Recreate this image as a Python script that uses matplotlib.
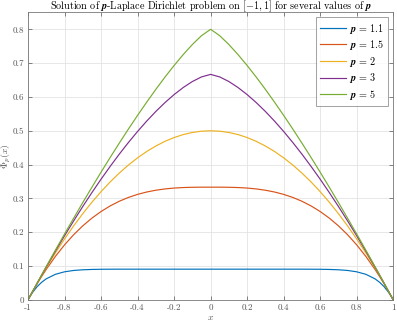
import matplotlib
matplotlib.use('Agg')
import matplotlib.pyplot as plt

# data (curves are symmetric about x = 0)
x = [-1, -0.99, -0.975, -0.95, -0.925, -0.9, -0.85, -0.8, -0.75, -0.7, -0.65, -0.6,
     -0.55, -0.5, -0.45, -0.4, -0.35, -0.3, -0.25, -0.2, -0.15, -0.1, -0.05, 0,
     0.05, 0.1, 0.15, 0.2, 0.25, 0.3, 0.35, 0.4, 0.45, 0.5, 0.55, 0.6, 0.65, 0.7,
     0.75, 0.8, 0.85, 0.9, 0.925, 0.95, 0.975, 0.99, 1]

u_11 = [0, 0.0095, 0.0221, 0.0392, 0.0523, 0.0624, 0.0757, 0.0831, 0.0871, 0.0891, 0.0901, 0.0906,
        0.0908, 0.0909, 0.0909, 0.0909, 0.0909, 0.0909, 0.0909, 0.0909, 0.0909, 0.0909, 0.0909, 0.0909,
        0.0909, 0.0909, 0.0909, 0.0909, 0.0909, 0.0909, 0.0909, 0.0909, 0.0909, 0.0909, 0.0908, 0.0906, 0.0901, 0.0891,
        0.0871, 0.0831, 0.0757, 0.0624, 0.0523, 0.0392, 0.0221, 0.0095, 0]
u_15 = [0, 0.0099, 0.0244, 0.0475, 0.0695, 0.0903, 0.1286, 0.1627, 0.1927, 0.2190, 0.2418, 0.2613,
        0.2779, 0.2917, 0.3030, 0.3120, 0.3190, 0.3243, 0.3281, 0.3307, 0.3322, 0.3330, 0.3333, 0.3333,
        0.3333, 0.3330, 0.3322, 0.3307, 0.3281, 0.3243, 0.3190, 0.3120, 0.3030, 0.2917, 0.2779, 0.2613, 0.2418, 0.2190,
        0.1927, 0.1627, 0.1286, 0.0903, 0.0695, 0.0475, 0.0244, 0.0099, 0]
u_2 = [0, 0.0100, 0.0247, 0.0488, 0.0722, 0.0950, 0.1388, 0.1800, 0.2188, 0.2550, 0.2888, 0.3200,
       0.3488, 0.3750, 0.3988, 0.4200, 0.4388, 0.4550, 0.4688, 0.4800, 0.4888, 0.4950, 0.4988, 0.5000,
       0.4988, 0.4950, 0.4888, 0.4800, 0.4688, 0.4550, 0.4388, 0.4200, 0.3988, 0.3750, 0.3488, 0.3200, 0.2888, 0.2550,
       0.2188, 0.1800, 0.1388, 0.0950, 0.0722, 0.0488, 0.0247, 0.0100, 0]
u_3 = [0, 0.0100, 0.0249, 0.0494, 0.0736, 0.0975, 0.1442, 0.1896, 0.2336, 0.2762, 0.3173, 0.3568,
       0.3947, 0.4310, 0.4654, 0.4980, 0.5286, 0.5571, 0.5833, 0.6070, 0.6279, 0.6456, 0.6592, 0.6667,
       0.6592, 0.6456, 0.6279, 0.6070, 0.5833, 0.5571, 0.5286, 0.4980, 0.4654, 0.4310, 0.3947, 0.3568, 0.3173, 0.2762,
       0.2336, 0.1896, 0.1442, 0.0975, 0.0736, 0.0494, 0.0249, 0.0100, 0]
u_5 = [0, 0.0100, 0.0249, 0.0496, 0.0743, 0.0987, 0.1471, 0.1948, 0.2416, 0.2878, 0.3331, 0.3776,
       0.4211, 0.4636, 0.5052, 0.5455, 0.5846, 0.6224, 0.6586, 0.6930, 0.7253, 0.7550, 0.7811, 0.8000,
       0.7811, 0.7550, 0.7253, 0.6930, 0.6586, 0.6224, 0.5846, 0.5455, 0.5052, 0.4636, 0.4211, 0.3776, 0.3331, 0.2878,
       0.2416, 0.1948, 0.1471, 0.0987, 0.0743, 0.0496, 0.0249, 0.0100, 0]

labels = ['1.1', '1.5', '2', '3', '5']
colors = ['#0072BD', '#D95319', '#EDB120', '#7E2F8E', '#77AC30']

xticks = [-1, -0.8, -0.6, -0.4, -0.2, 0, 0.2, 0.4, 0.6, 0.8, 1]
xtick_labels = ['-1', '-0.8', '-0.6', '-0.4', '-0.2', '0', '0.2', '0.4', '0.6', '0.8', '1']
yticks = [0, 0.1, 0.2, 0.3, 0.4, 0.5, 0.6, 0.7, 0.8]
ytick_labels = ['0', '0.1', '0.2', '0.3', '0.4', '0.5', '0.6', '0.7', '0.8']

plt.rcParams['font.family'] = 'cmr10'
plt.rcParams['mathtext.fontset'] = 'cm'
plt.rcParams['axes.unicode_minus'] = False

fig = plt.figure(figsize=(3.97, 3.26), dpi=100)
ax = fig.add_axes([0.0705, 0.08, 0.92, 0.882])

for u, lab, c in zip([u_11, u_15, u_2, u_3, u_5], labels, colors):
    ax.plot(x, u, color=c, linewidth=0.85, label=r'$\boldsymbol{p}\,=\,$' + lab)

ax.set_xlim(-1, 1)
ax.set_ylim(0, 0.85)
ax.set_xticks(xticks)
ax.set_xticklabels(xtick_labels)
ax.set_yticks(yticks)
ax.set_yticklabels(ytick_labels)
ax.tick_params(direction='in', length=3, width=0.5, labelsize=6.5, colors='#555555',
               top=True, right=True, pad=3)
for s in ax.spines.values():
    s.set_color('#777777')
    s.set_linewidth(0.6)
ax.grid(True, color='#e3e3e3', linewidth=0.6)
ax.set_axisbelow(True)

ax.set_xlabel(r'$x$', fontsize=7, color='#555555', labelpad=1)
ax.set_ylabel(r'$\Phi_p(x)$', fontsize=7, color='#555555')
ax.yaxis.set_label_coords(-0.04, 0.5)
ax.set_title(r'Solution of $\boldsymbol{p}$-Laplace Dirichlet problem on $[-1,1]$ for several values of $\boldsymbol{p}$',
             fontsize=7.3, pad=2)

leg = ax.legend(loc='upper right', fontsize=7.3, frameon=True, fancybox=False,
                edgecolor='#777777', handlelength=2.6, handletextpad=0.3,
                borderaxespad=0.5, labelspacing=0.25, borderpad=0.4)
leg.get_frame().set_linewidth(0.6)

fig.savefig('out.png', dpi=100)
